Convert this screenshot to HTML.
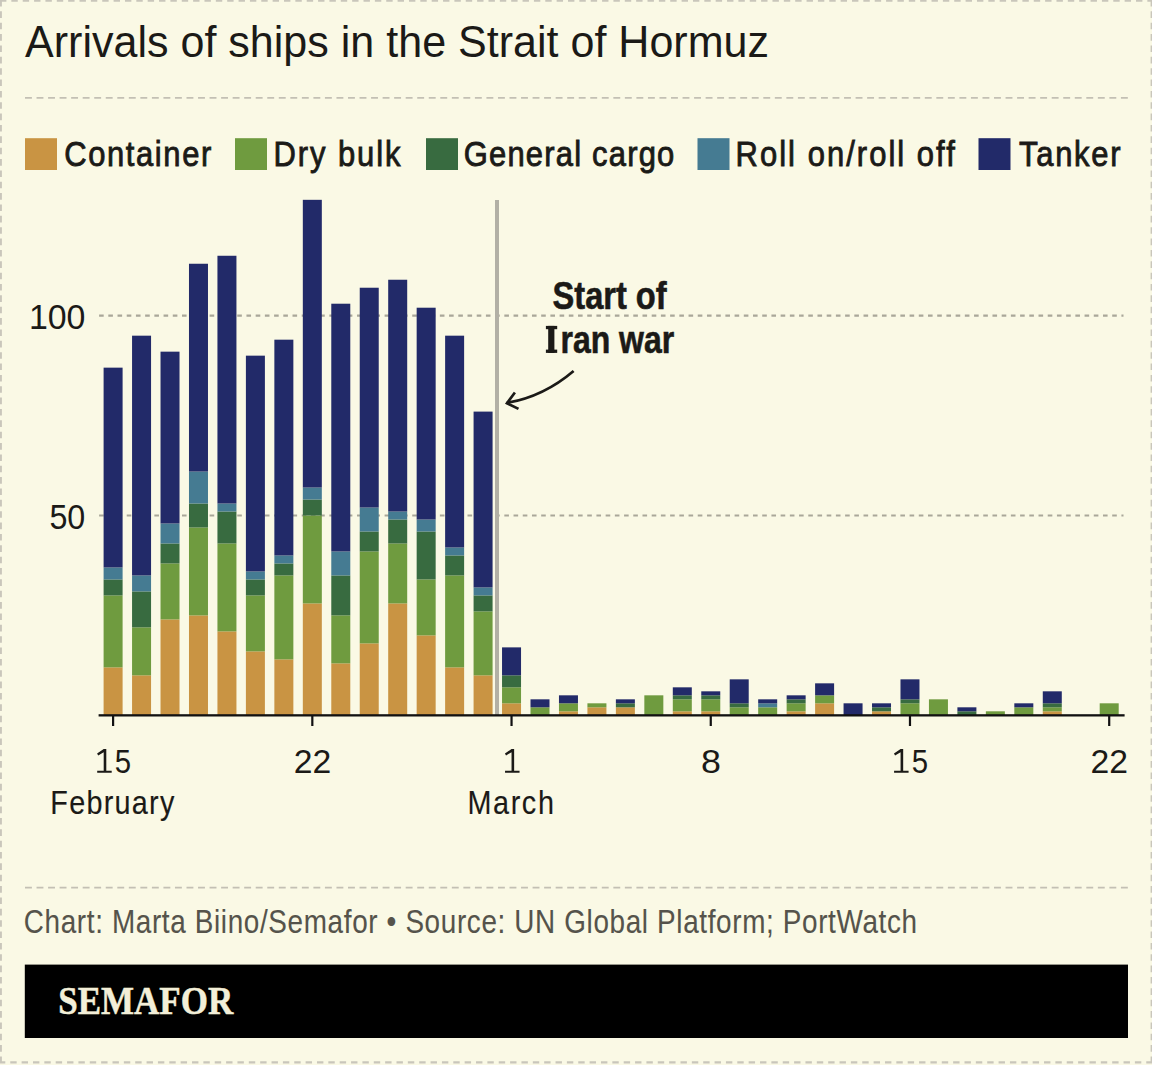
<!DOCTYPE html><html><head><meta charset="utf-8"><style>html,body{margin:0;padding:0;background:#faf9e5;}svg{display:block;}</style></head><body>
<svg width="1152" height="1065" viewBox="0 0 1152 1065">
<rect x="0" y="0" width="1152" height="1065" fill="#faf9e5"/>
<line x1="0" y1="0.9" x2="1152" y2="0.9" stroke="#c9c6bb" stroke-width="1.9" stroke-dasharray="6.4 4.96"/>
<line x1="-1.1" y1="1062.4" x2="1152" y2="1062.4" stroke="#c9c6bb" stroke-width="2.2" stroke-dasharray="6.4 4.96"/>
<line x1="0.95" y1="0" x2="0.95" y2="1063" stroke="#c9c6bb" stroke-width="1.9" stroke-dasharray="6.6 4.76"/>
<line x1="1151.4" y1="0" x2="1151.4" y2="1063" stroke="#c9c6bb" stroke-width="1.6" stroke-dasharray="6.6 4.76"/>
<text x="25" y="57.4" font-family="Liberation Sans" font-size="43.5" fill="#1b1a17" textLength="744" lengthAdjust="spacingAndGlyphs">Arrivals of ships in the Strait of Hormuz</text>
<line x1="25" y1="97.9" x2="1128" y2="97.9" stroke="#c3c0b4" stroke-width="1.8" stroke-dasharray="6.9 4.636"/>
<line x1="25" y1="887.6" x2="1128" y2="887.6" stroke="#c3c0b4" stroke-width="1.8" stroke-dasharray="6.9 4.636"/>
<rect x="25.0" y="138.2" width="32" height="31.8" fill="#c99443"/>
<text transform="translate(64.21,165.6) scale(0.860,1)" x="0" y="0" font-family="Liberation Sans" font-size="36" fill="#1b1a17" stroke="#1b1a17" stroke-width="0.9" textLength="171.02" lengthAdjust="spacing">Container</text>
<rect x="235.0" y="138.2" width="32" height="31.8" fill="#6f9b3f"/>
<text transform="translate(273.61,165.6) scale(0.860,1)" x="0" y="0" font-family="Liberation Sans" font-size="36" fill="#1b1a17" stroke="#1b1a17" stroke-width="0.9" textLength="147.42" lengthAdjust="spacing">Dry bulk</text>
<rect x="426.0" y="138.2" width="32" height="31.8" fill="#386b40"/>
<text transform="translate(463.71,165.6) scale(0.860,1)" x="0" y="0" font-family="Liberation Sans" font-size="36" fill="#1b1a17" stroke="#1b1a17" stroke-width="0.9" textLength="244.86" lengthAdjust="spacing">General cargo</text>
<rect x="697.5" y="138.2" width="32" height="31.8" fill="#457b92"/>
<text transform="translate(735.51,165.6) scale(0.860,1)" x="0" y="0" font-family="Liberation Sans" font-size="36" fill="#1b1a17" stroke="#1b1a17" stroke-width="0.9" textLength="254.98" lengthAdjust="spacing">Roll on/roll off</text>
<rect x="978.5" y="138.2" width="32" height="31.8" fill="#222a69"/>
<text transform="translate(1019.11,165.6) scale(0.860,1)" x="0" y="0" font-family="Liberation Sans" font-size="36" fill="#1b1a17" stroke="#1b1a17" stroke-width="0.9" textLength="117.88" lengthAdjust="spacing">Tanker</text>
<line x1="99.1" y1="515.5" x2="1123.5" y2="515.5" stroke="#a9a799" stroke-width="2.2" stroke-dasharray="4.6 4.61"/>
<text x="49.40" y="529.10" font-family="Liberation Sans" font-size="35" fill="#1b1a17" textLength="35.90" lengthAdjust="spacingAndGlyphs">50</text>
<line x1="99.1" y1="315.7" x2="1123.5" y2="315.7" stroke="#a9a799" stroke-width="2.2" stroke-dasharray="4.6 4.61"/>
<text x="28.90" y="329.30" font-family="Liberation Sans" font-size="35" fill="#1b1a17" textLength="56.60" lengthAdjust="spacingAndGlyphs">100</text>
<rect x="103.60" y="667.35" width="19.00" height="47.95" fill="#c99443"/>
<rect x="103.60" y="595.42" width="19.00" height="71.93" fill="#6f9b3f"/>
<rect x="103.60" y="579.44" width="19.00" height="15.98" fill="#386b40"/>
<rect x="103.60" y="567.45" width="19.00" height="11.99" fill="#457b92"/>
<rect x="103.60" y="367.65" width="19.00" height="199.80" fill="#222a69"/>
<rect x="132.06" y="675.34" width="19.00" height="39.96" fill="#c99443"/>
<rect x="132.06" y="627.39" width="19.00" height="47.95" fill="#6f9b3f"/>
<rect x="132.06" y="591.42" width="19.00" height="35.96" fill="#386b40"/>
<rect x="132.06" y="575.44" width="19.00" height="15.98" fill="#457b92"/>
<rect x="132.06" y="335.68" width="19.00" height="239.76" fill="#222a69"/>
<rect x="160.52" y="619.40" width="19.00" height="95.90" fill="#c99443"/>
<rect x="160.52" y="563.45" width="19.00" height="55.94" fill="#6f9b3f"/>
<rect x="160.52" y="543.47" width="19.00" height="19.98" fill="#386b40"/>
<rect x="160.52" y="523.49" width="19.00" height="19.98" fill="#457b92"/>
<rect x="160.52" y="351.66" width="19.00" height="171.83" fill="#222a69"/>
<rect x="188.98" y="615.40" width="19.00" height="99.90" fill="#c99443"/>
<rect x="188.98" y="527.49" width="19.00" height="87.91" fill="#6f9b3f"/>
<rect x="188.98" y="503.51" width="19.00" height="23.98" fill="#386b40"/>
<rect x="188.98" y="471.54" width="19.00" height="31.97" fill="#457b92"/>
<rect x="188.98" y="263.75" width="19.00" height="207.79" fill="#222a69"/>
<rect x="217.44" y="631.38" width="19.00" height="83.92" fill="#c99443"/>
<rect x="217.44" y="543.47" width="19.00" height="87.91" fill="#6f9b3f"/>
<rect x="217.44" y="511.50" width="19.00" height="31.97" fill="#386b40"/>
<rect x="217.44" y="503.51" width="19.00" height="7.99" fill="#457b92"/>
<rect x="217.44" y="255.76" width="19.00" height="247.75" fill="#222a69"/>
<rect x="245.90" y="651.36" width="19.00" height="63.94" fill="#c99443"/>
<rect x="245.90" y="595.42" width="19.00" height="55.94" fill="#6f9b3f"/>
<rect x="245.90" y="579.44" width="19.00" height="15.98" fill="#386b40"/>
<rect x="245.90" y="571.44" width="19.00" height="7.99" fill="#457b92"/>
<rect x="245.90" y="355.66" width="19.00" height="215.78" fill="#222a69"/>
<rect x="274.36" y="659.36" width="19.00" height="55.94" fill="#c99443"/>
<rect x="274.36" y="575.44" width="19.00" height="83.92" fill="#6f9b3f"/>
<rect x="274.36" y="563.45" width="19.00" height="11.99" fill="#386b40"/>
<rect x="274.36" y="555.46" width="19.00" height="7.99" fill="#457b92"/>
<rect x="274.36" y="339.68" width="19.00" height="215.78" fill="#222a69"/>
<rect x="302.82" y="603.41" width="19.00" height="111.89" fill="#c99443"/>
<rect x="302.82" y="515.50" width="19.00" height="87.91" fill="#6f9b3f"/>
<rect x="302.82" y="499.52" width="19.00" height="15.98" fill="#386b40"/>
<rect x="302.82" y="487.53" width="19.00" height="11.99" fill="#457b92"/>
<rect x="302.82" y="199.82" width="19.00" height="287.71" fill="#222a69"/>
<rect x="331.28" y="663.35" width="19.00" height="51.95" fill="#c99443"/>
<rect x="331.28" y="615.40" width="19.00" height="47.95" fill="#6f9b3f"/>
<rect x="331.28" y="575.44" width="19.00" height="39.96" fill="#386b40"/>
<rect x="331.28" y="551.46" width="19.00" height="23.98" fill="#457b92"/>
<rect x="331.28" y="303.71" width="19.00" height="247.75" fill="#222a69"/>
<rect x="359.74" y="643.37" width="19.00" height="71.93" fill="#c99443"/>
<rect x="359.74" y="551.46" width="19.00" height="91.91" fill="#6f9b3f"/>
<rect x="359.74" y="531.48" width="19.00" height="19.98" fill="#386b40"/>
<rect x="359.74" y="507.51" width="19.00" height="23.98" fill="#457b92"/>
<rect x="359.74" y="287.73" width="19.00" height="219.78" fill="#222a69"/>
<rect x="388.20" y="603.41" width="19.00" height="111.89" fill="#c99443"/>
<rect x="388.20" y="543.47" width="19.00" height="59.94" fill="#6f9b3f"/>
<rect x="388.20" y="519.50" width="19.00" height="23.98" fill="#386b40"/>
<rect x="388.20" y="511.50" width="19.00" height="7.99" fill="#457b92"/>
<rect x="388.20" y="279.74" width="19.00" height="231.77" fill="#222a69"/>
<rect x="416.66" y="635.38" width="19.00" height="79.92" fill="#c99443"/>
<rect x="416.66" y="579.44" width="19.00" height="55.94" fill="#6f9b3f"/>
<rect x="416.66" y="531.48" width="19.00" height="47.95" fill="#386b40"/>
<rect x="416.66" y="519.50" width="19.00" height="11.99" fill="#457b92"/>
<rect x="416.66" y="307.71" width="19.00" height="211.79" fill="#222a69"/>
<rect x="445.12" y="667.35" width="19.00" height="47.95" fill="#c99443"/>
<rect x="445.12" y="575.44" width="19.00" height="91.91" fill="#6f9b3f"/>
<rect x="445.12" y="555.46" width="19.00" height="19.98" fill="#386b40"/>
<rect x="445.12" y="547.47" width="19.00" height="7.99" fill="#457b92"/>
<rect x="445.12" y="335.68" width="19.00" height="211.79" fill="#222a69"/>
<rect x="473.58" y="675.34" width="19.00" height="39.96" fill="#c99443"/>
<rect x="473.58" y="611.40" width="19.00" height="63.94" fill="#6f9b3f"/>
<rect x="473.58" y="595.42" width="19.00" height="15.98" fill="#386b40"/>
<rect x="473.58" y="587.43" width="19.00" height="7.99" fill="#457b92"/>
<rect x="473.58" y="411.60" width="19.00" height="175.82" fill="#222a69"/>
<rect x="502.04" y="703.31" width="19.00" height="11.99" fill="#c99443"/>
<rect x="502.04" y="687.33" width="19.00" height="15.98" fill="#6f9b3f"/>
<rect x="502.04" y="675.34" width="19.00" height="11.99" fill="#386b40"/>
<rect x="502.04" y="647.37" width="19.00" height="27.97" fill="#222a69"/>
<rect x="530.50" y="707.31" width="19.00" height="7.99" fill="#6f9b3f"/>
<rect x="530.50" y="699.32" width="19.00" height="7.99" fill="#222a69"/>
<rect x="558.96" y="711.30" width="19.00" height="4.00" fill="#c99443"/>
<rect x="558.96" y="703.31" width="19.00" height="7.99" fill="#6f9b3f"/>
<rect x="558.96" y="695.32" width="19.00" height="7.99" fill="#222a69"/>
<rect x="587.42" y="707.31" width="19.00" height="7.99" fill="#c99443"/>
<rect x="587.42" y="703.31" width="19.00" height="4.00" fill="#6f9b3f"/>
<rect x="615.88" y="707.31" width="19.00" height="7.99" fill="#c99443"/>
<rect x="615.88" y="703.31" width="19.00" height="4.00" fill="#386b40"/>
<rect x="615.88" y="699.32" width="19.00" height="4.00" fill="#222a69"/>
<rect x="644.34" y="695.32" width="19.00" height="19.98" fill="#6f9b3f"/>
<rect x="672.80" y="711.30" width="19.00" height="4.00" fill="#c99443"/>
<rect x="672.80" y="699.32" width="19.00" height="11.99" fill="#6f9b3f"/>
<rect x="672.80" y="695.32" width="19.00" height="4.00" fill="#386b40"/>
<rect x="672.80" y="687.33" width="19.00" height="7.99" fill="#222a69"/>
<rect x="701.26" y="711.30" width="19.00" height="4.00" fill="#c99443"/>
<rect x="701.26" y="699.32" width="19.00" height="11.99" fill="#6f9b3f"/>
<rect x="701.26" y="695.32" width="19.00" height="4.00" fill="#386b40"/>
<rect x="701.26" y="691.32" width="19.00" height="4.00" fill="#222a69"/>
<rect x="729.72" y="707.31" width="19.00" height="7.99" fill="#6f9b3f"/>
<rect x="729.72" y="703.31" width="19.00" height="4.00" fill="#386b40"/>
<rect x="729.72" y="679.34" width="19.00" height="23.98" fill="#222a69"/>
<rect x="758.18" y="707.31" width="19.00" height="7.99" fill="#6f9b3f"/>
<rect x="758.18" y="703.31" width="19.00" height="4.00" fill="#457b92"/>
<rect x="758.18" y="699.32" width="19.00" height="4.00" fill="#222a69"/>
<rect x="786.64" y="711.30" width="19.00" height="4.00" fill="#c99443"/>
<rect x="786.64" y="703.31" width="19.00" height="7.99" fill="#6f9b3f"/>
<rect x="786.64" y="699.32" width="19.00" height="4.00" fill="#386b40"/>
<rect x="786.64" y="695.32" width="19.00" height="4.00" fill="#222a69"/>
<rect x="815.10" y="703.31" width="19.00" height="11.99" fill="#c99443"/>
<rect x="815.10" y="695.32" width="19.00" height="7.99" fill="#6f9b3f"/>
<rect x="815.10" y="683.33" width="19.00" height="11.99" fill="#222a69"/>
<rect x="843.56" y="703.31" width="19.00" height="11.99" fill="#222a69"/>
<rect x="872.02" y="711.30" width="19.00" height="4.00" fill="#c99443"/>
<rect x="872.02" y="707.31" width="19.00" height="4.00" fill="#386b40"/>
<rect x="872.02" y="703.31" width="19.00" height="4.00" fill="#222a69"/>
<rect x="900.48" y="703.31" width="19.00" height="11.99" fill="#6f9b3f"/>
<rect x="900.48" y="699.32" width="19.00" height="4.00" fill="#386b40"/>
<rect x="900.48" y="679.34" width="19.00" height="19.98" fill="#222a69"/>
<rect x="928.94" y="699.32" width="19.00" height="15.98" fill="#6f9b3f"/>
<rect x="957.40" y="711.30" width="19.00" height="4.00" fill="#386b40"/>
<rect x="957.40" y="707.31" width="19.00" height="4.00" fill="#222a69"/>
<rect x="985.86" y="711.30" width="19.00" height="4.00" fill="#6f9b3f"/>
<rect x="1014.32" y="707.31" width="19.00" height="7.99" fill="#6f9b3f"/>
<rect x="1014.32" y="703.31" width="19.00" height="4.00" fill="#222a69"/>
<rect x="1042.78" y="711.30" width="19.00" height="4.00" fill="#c99443"/>
<rect x="1042.78" y="707.31" width="19.00" height="4.00" fill="#6f9b3f"/>
<rect x="1042.78" y="703.31" width="19.00" height="4.00" fill="#386b40"/>
<rect x="1042.78" y="691.32" width="19.00" height="11.99" fill="#222a69"/>
<rect x="1099.70" y="703.31" width="19.00" height="11.99" fill="#6f9b3f"/>
<rect x="495" y="200" width="4" height="515" fill="#b2b0a5"/>
<rect x="98.6" y="714.2" width="1026" height="2.3" fill="#111"/>
<rect x="112.00" y="715" width="2.2" height="11" fill="#111"/>
<path d="M103.70 748.9 H106.30 V770.7 H111.70 V772.8 H97.20 V770.7 H103.70 V752.2 L98.20 755.5 L97.10 753.6 Z" fill="#1b1a17"/>
<text x="114.80" y="772.70" font-family="Liberation Sans" font-size="33" fill="#1b1a17" textLength="16.33" lengthAdjust="spacingAndGlyphs">5</text>
<rect x="311.22" y="715" width="2.2" height="11" fill="#111"/>
<text x="293.72" y="772.70" font-family="Liberation Sans" font-size="33" fill="#1b1a17" textLength="37.50" lengthAdjust="spacingAndGlyphs">22</text>
<rect x="510.44" y="715" width="2.2" height="11" fill="#111"/>
<path d="M511.54 748.9 H514.14 V770.7 H519.54 V772.8 H505.04 V770.7 H511.54 V752.2 L506.04 755.5 L504.94 753.6 Z" fill="#1b1a17"/>
<rect x="709.66" y="715" width="2.2" height="11" fill="#111"/>
<text x="700.92" y="772.70" font-family="Liberation Sans" font-size="33" fill="#1b1a17" textLength="19.90" lengthAdjust="spacingAndGlyphs">8</text>
<rect x="908.88" y="715" width="2.2" height="11" fill="#111"/>
<path d="M900.58 748.9 H903.18 V770.7 H908.58 V772.8 H894.08 V770.7 H900.58 V752.2 L895.08 755.5 L893.98 753.6 Z" fill="#1b1a17"/>
<text x="911.68" y="772.70" font-family="Liberation Sans" font-size="33" fill="#1b1a17" textLength="16.33" lengthAdjust="spacingAndGlyphs">5</text>
<rect x="1108.10" y="715" width="2.2" height="11" fill="#111"/>
<text x="1090.60" y="772.70" font-family="Liberation Sans" font-size="33" fill="#1b1a17" textLength="37.50" lengthAdjust="spacingAndGlyphs">22</text>
<text transform="translate(50.28,813.80) scale(0.860,1)" x="0" y="0" font-family="Liberation Sans" font-size="33.5" fill="#1b1a17" stroke="#1b1a17" stroke-width="0.15" textLength="144.24" lengthAdjust="spacing">February</text>
<text transform="translate(467.38,814.20) scale(0.860,1)" x="0" y="0" font-family="Liberation Sans" font-size="33.5" fill="#1b1a17" stroke="#1b1a17" stroke-width="0.15" textLength="100.63" lengthAdjust="spacing">March</text>
<text x="609.6" y="309.2" text-anchor="middle" font-family="Liberation Sans" font-weight="bold" font-size="38" fill="#1b1a17" stroke="#1b1a17" stroke-width="0.6" textLength="114" lengthAdjust="spacingAndGlyphs">Start of</text>
<text x="560.5" y="352.9" font-family="Liberation Sans" font-weight="bold" font-size="38" fill="#1b1a17" stroke="#1b1a17" stroke-width="0.6" textLength="113.7" lengthAdjust="spacingAndGlyphs">ran war</text>
<rect x="545.9" y="325.9" width="11.3" height="3.3" fill="#1b1a17"/><rect x="545.9" y="349.6" width="11.3" height="3.3" fill="#1b1a17"/><rect x="548.2" y="325.9" width="6.2" height="27" fill="#1b1a17"/>
<path d="M573.6 371 C556 386 536 398 506.5 403" fill="none" stroke="#1b1a17" stroke-width="2.7" stroke-linecap="butt"/>
<path d="M514.9 392.5 L507 403.2 L518.5 408.9" fill="none" stroke="#1b1a17" stroke-width="2.7" stroke-linecap="butt" stroke-linejoin="miter" stroke-miterlimit="3"/>
<text transform="translate(23.79,932.7) scale(0.820,1)" x="0" y="0" font-family="Liberation Sans" font-size="34" fill="#55534b" stroke="#55534b" stroke-width="0.1" textLength="1089.29" lengthAdjust="spacing">Chart: Marta Biino/Semafor • Source: UN Global Platform; PortWatch</text>
<rect x="24.8" y="964.6" width="1103.2" height="73.4" fill="#000"/>
<text x="58.2" y="1014.2" font-family="Liberation Serif" font-weight="bold" font-size="39.5" fill="#f3efd8" stroke="#f3efd8" stroke-width="0.5" textLength="175"  lengthAdjust="spacingAndGlyphs">SEMAFOR</text>
</svg></body></html>
